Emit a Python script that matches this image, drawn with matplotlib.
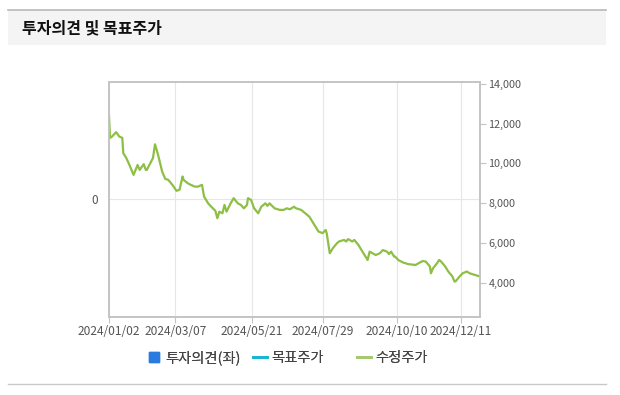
import numpy as np
import pandas as pd
import matplotlib
matplotlib.use("Agg")
import matplotlib.pyplot as plt
from matplotlib.lines import Line2D
from matplotlib.ticker import FuncFormatter

plt.rcParams['font.family'] = ['Noto Sans CJK KR', 'DejaVu Sans']

# --- data ---
dates = ["2024-01-02", "2024-01-03", "2024-01-05", "2024-01-09", "2024-01-12", "2024-01-15",
         "2024-01-16", "2024-01-19", "2024-01-22", "2024-01-26", "2024-01-30", "2024-02-01",
         "2024-02-05", "2024-02-07", "2024-02-08", "2024-02-13", "2024-02-14", "2024-02-16",
         "2024-02-19", "2024-02-21", "2024-02-23", "2024-02-26", "2024-02-29", "2024-03-04",
         "2024-03-08", "2024-03-11", "2024-03-14", "2024-03-15", "2024-03-19", "2024-03-22",
         "2024-03-26", "2024-03-29", "2024-04-02", "2024-04-04", "2024-04-08", "2024-04-11",
         "2024-04-15", "2024-04-17", "2024-04-19", "2024-04-22", "2024-04-24", "2024-04-26",
         "2024-04-30", "2024-05-03", "2024-05-07", "2024-05-10", "2024-05-13", "2024-05-16",
         "2024-05-17", "2024-05-20", "2024-05-23", "2024-05-27", "2024-05-30", "2024-06-03",
         "2024-06-05", "2024-06-07", "2024-06-12", "2024-06-17", "2024-06-21", "2024-06-24",
         "2024-06-27", "2024-07-01", "2024-07-03", "2024-07-08", "2024-07-12", "2024-07-16",
         "2024-07-19", "2024-07-22", "2024-07-25", "2024-07-29", "2024-08-01", "2024-08-02",
         "2024-08-05", "2024-08-06", "2024-08-08", "2024-08-12", "2024-08-14", "2024-08-19",
         "2024-08-21", "2024-08-23", "2024-08-27", "2024-08-29", "2024-09-02", "2024-09-06",
         "2024-09-09", "2024-09-11", "2024-09-13", "2024-09-19", "2024-09-23", "2024-09-26",
         "2024-09-30", "2024-10-02", "2024-10-04", "2024-10-07", "2024-10-08", "2024-10-11",
         "2024-10-16", "2024-10-21", "2024-10-28", "2024-10-31", "2024-11-04", "2024-11-07",
         "2024-11-11", "2024-11-12", "2024-11-14", "2024-11-18", "2024-11-20", "2024-11-22",
         "2024-11-26", "2024-11-29", "2024-12-03", "2024-12-05", "2024-12-06", "2024-12-10",
         "2024-12-13", "2024-12-17", "2024-12-20", "2024-12-23", "2024-12-30"]
price = [12390, 11280, 11350, 11570, 11350, 11280,
         10510, 10260, 9920, 9420, 9920, 9670,
         9960, 9670, 9670, 10170, 10260, 10960,
         10430, 10010, 9590, 9220, 9170, 8920,
         8620, 8670, 9340, 9170, 9000, 8920,
         8830, 8830, 8920, 8330, 7990, 7820,
         7620, 7240, 7570, 7490, 7910, 7570,
         7990, 8250, 7990, 7910, 7740, 7910,
         8250, 8160, 7740, 7490, 7820, 7990,
         7860, 7990, 7740, 7660, 7660, 7740,
         7690, 7820, 7740, 7660, 7490, 7320,
         7070, 6820, 6570, 6490, 6650, 6490,
         5480, 5560, 5730, 5980, 6070, 6150,
         6070, 6190, 6070, 6150, 5900, 5560,
         5310, 5140, 5560, 5390, 5480, 5640,
         5560, 5440, 5560, 5310, 5310, 5140,
         5010, 4930, 4890, 4980, 5090, 5060,
         4810, 4470, 4720, 4980, 5140, 5060,
         4810, 4560, 4310, 4060, 4060, 4310,
         4470, 4560, 4470, 4420, 4310]
tick_dates = ["2024-01-02", "2024-03-07", "2024-05-21", "2024-07-29", "2024-10-10", "2024-12-11"]
tick_labels = ["2024/01/02", "2024/03/07", "2024/05/21", "2024/07/29", "2024/10/10", "2024/12/11"]
price_ticks = [4000, 6000, 8000, 10000, 12000, 14000]
legend_labels = ["투자의견(좌)", "목표주가", "수정주가"]

x = pd.to_datetime(dates)
xt = pd.to_datetime(tick_dates)

frame = '#c4c4c4'
gridc = '#e6e6e6'
txt = '#555555'
green = '#8dbf45'

fig = plt.figure(figsize=(6.2, 3.95), dpi=100)

# header band + rules
fig.add_artist(plt.Rectangle((8/620, 1-45/395), 598/620, 35/395, transform=fig.transFigure,
                             facecolor='#f4f4f4', edgecolor='none'))
fig.add_artist(Line2D([8/620, 606/620], [1-9.5/395]*2, transform=fig.transFigure, color='#b8b8b8', lw=1.2))
fig.add_artist(Line2D([8/620, 606/620], [1-384/395]*2, transform=fig.transFigure, color='#c8c8c8', lw=1.0))
fig.text(22/620, 1-28/395, "투자의견 및 목표주가", fontsize=11.5, fontweight='bold', color='#111111', va='center')

ax = fig.add_axes([109/620, 1-317/395, 371/620, 235.5/395])
ax.set_ylim(-1, 1)
ax.set_yticks([0])
ax.set_yticklabels(['0'])
ax.set_xlim(pd.Timestamp("2024-01-02"), pd.Timestamp("2024-12-30"))
ax.set_xticks(xt)
ax.set_xticklabels(tick_labels)
ax.grid(True, color=gridc, lw=0.8)
ax.set_axisbelow(True)
for s in ax.spines.values():
    s.set_color(frame)
    s.set_linewidth(1.2)
ax.tick_params(axis='x', colors=frame, labelcolor=txt, labelsize=8.6, length=4, pad=2)
ax.tick_params(axis='y', colors=frame, labelcolor=txt, labelsize=8.5, length=0, pad=8)

ax2 = ax.twinx()
ax2.plot(x, price, color=green, lw=1.6, solid_joinstyle='round')
ax2.set_ylim(2274, 14116)
ax2.set_yticks(price_ticks)
ax2.yaxis.set_major_formatter(FuncFormatter(lambda v, p: f"{int(v):,}"))
ax2.tick_params(axis='y', colors=frame, labelcolor=txt, labelsize=7.8, length=4, pad=2)
for s in ax2.spines.values():
    s.set_color(frame)
    s.set_linewidth(1.2)

handles = [Line2D([], [], marker='s', linestyle='none', color='#2a7be0', markersize=7),
           Line2D([], [], color='#1ab4d4', lw=2),
           Line2D([], [], color='#a6c870', lw=2)]
legend_x = [147, 253, 357]
for h, lab, lx in zip(handles, legend_labels, legend_x):
    lg = fig.legend([h], [lab], loc='center left', bbox_to_anchor=(lx/620, 1-358/395),
                    frameon=False, fontsize=10.3, handlelength=1.0, handletextpad=0.3,
                    borderpad=0, borderaxespad=0, labelcolor='#444444')
    fig.add_artist(lg)

fig.savefig("out.png", dpi=100, facecolor='white')
